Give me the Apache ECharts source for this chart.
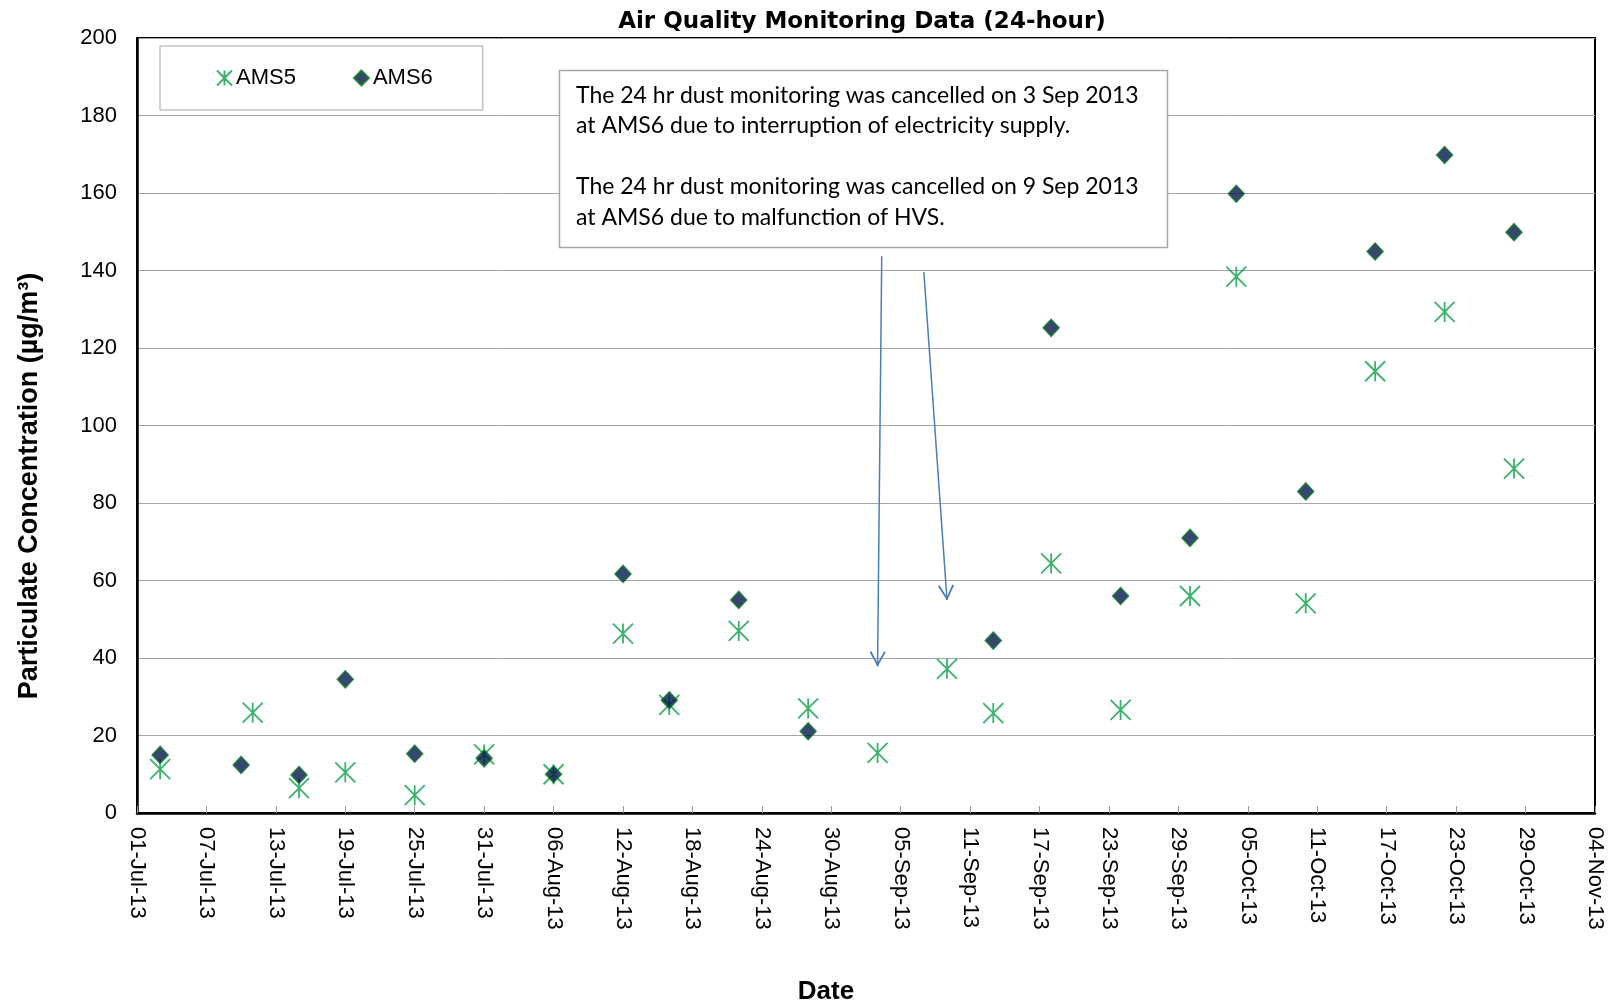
<!DOCTYPE html>
<html>
<head>
<meta charset="utf-8">
<script src="https://cdn.jsdelivr.net/npm/echarts@6/dist/echarts.min.js"></script>
<style>
  html, body { margin: 0; padding: 0; background: #fff; }
  #chart { width: 1614px; height: 1008px; }
</style>
</head>
<body>
<div id="chart"></div>
<script>
// ---- data ----
const startDate = '2013-07-01';
const tickLabels = ['01-Jul-13', '07-Jul-13', '13-Jul-13', '19-Jul-13', '25-Jul-13', '31-Jul-13',
  '06-Aug-13', '12-Aug-13', '18-Aug-13', '24-Aug-13', '30-Aug-13', '05-Sep-13', '11-Sep-13',
  '17-Sep-13', '23-Sep-13', '29-Sep-13', '05-Oct-13', '11-Oct-13', '17-Oct-13', '23-Oct-13',
  '29-Oct-13', '04-Nov-13'];
const yTicks = [0, 20, 40, 60, 80, 100, 120, 140, 160, 180, 200];

const ams5Dates = ['2013-07-03', '2013-07-11', '2013-07-15', '2013-07-19', '2013-07-25', '2013-07-31',
  '2013-08-06', '2013-08-12', '2013-08-16', '2013-08-22', '2013-08-28', '2013-09-03', '2013-09-09',
  '2013-09-13', '2013-09-18', '2013-09-24', '2013-09-30', '2013-10-04', '2013-10-10', '2013-10-16',
  '2013-10-22', '2013-10-28'];
const ams5Values = [11.3, 25.9, 6.4, 10.5, 4.6, 15.1, 10.0, 46.3, 27.9, 47.0, 27.0, 15.5, 37.2,
  25.8, 64.4, 26.6, 56.0, 138.4, 54.1, 114.0, 129.3, 88.9];

const ams6Dates = ['2013-07-03', '2013-07-10', '2013-07-15', '2013-07-19', '2013-07-25', '2013-07-31',
  '2013-08-06', '2013-08-12', '2013-08-16', '2013-08-22', '2013-08-28', '2013-09-13', '2013-09-18',
  '2013-09-24', '2013-09-30', '2013-10-04', '2013-10-10', '2013-10-16', '2013-10-22', '2013-10-28'];
const ams6Values = [15.0, 12.4, 9.8, 34.5, 15.3, 14.1, 10.0, 61.7, 29.1, 55.0, 21.1, 44.5, 125.2,
  56.0, 71.0, 159.8, 83.0, 144.9, 169.8, 149.9];

// annotation arrows: [date, value] at start and end
const arrowStarts = [['2013-09-03', 143.7], ['2013-09-07', 139.6]];
const arrowEnds = [['2013-09-03', 37.9], ['2013-09-09', 55.0]];
const arrowStartShift = [0.36, 0]; // day fraction

const noteLines = [
  'The 24 hr dust monitoring was cancelled on 3 Sep 2013',
  'at AMS6 due to interruption of electricity supply.',
  '',
  'The 24 hr dust monitoring was cancelled on 9 Sep 2013',
  'at AMS6 due to malfunction of HVS.'
];

// ---- helpers ----
const DAY = 86400000;
function dayOf(d) {
  return (Date.parse(d + 'T00:00:00Z') - Date.parse(startDate + 'T00:00:00Z')) / DAY;
}
const ams5Data = ams5Dates.map((d, i) => [dayOf(d), ams5Values[i]]);
const ams6Data = ams6Dates.map((d, i) => [dayOf(d), ams6Values[i]]);
const arrowData = arrowStarts.map((s, i) => [
  { coord: [dayOf(s[0]) + arrowStartShift[i], s[1]] },
  { coord: [dayOf(arrowEnds[i][0]), arrowEnds[i][1]] }
]);

const FONT = '"Liberation Sans", Arial, sans-serif';
const GREEN = '#0a9e48';
const NAVY = '#04184a';
const DGREEN = '#0c7a22';
const ARROW_BLUE = '#4a7ebb';

const starPath = 'path://M0,0L10,10M10,0L0,10M5,0L5,10';
const vHead = 'path://M5,0M5,9L10,18L9,18.7L5,11.2L1,18.7L0,18Z';

const chart = echarts.init(document.getElementById('chart'), null, { renderer: 'canvas' });

const option = {
  backgroundColor: '#fff',
  animation: false,
  title: {
    text: 'Air Quality Monitoring Data (24-hour)',
    left: 857,
    top: 6,
    textAlign: 'center',
    textStyle: { fontFamily: '"DejaVu Sans", sans-serif', fontWeight: 'bold', fontSize: 23, color: '#000' }
  },
  legend: {
    left: 160,
    top: 46,
    orient: 'horizontal',
    padding: [21, 50, 21, 56],
    itemGap: 57,
    itemWidth: 15,
    itemHeight: 15,
    borderColor: '#a6a6a6',
    borderWidth: 1,
    backgroundColor: '#fff',
    textStyle: { fontFamily: FONT, fontSize: 22, color: '#000', padding: [0, 0, 0, -1] },
    data: ['AMS5', 'AMS6']
  },
  grid: {
    left: 137,
    right: 19,
    top: 38,
    bottom: 195,
    show: true,
    borderColor: '#000',
    borderWidth: 2,
    containLabel: false,
    outerBoundsMode: 'none'
  },
  xAxis: {
    type: 'value',
    min: 0,
    max: dayOf('2013-11-04'),
    interval: 6,
    axisLine: { show: true, onZero: false, lineStyle: { color: '#000', width: 2.5 } },
    axisTick: { show: true, inside: true, length: 7, lineStyle: { color: '#9a9a9a', width: 1 } },
    splitLine: { show: false },
    axisLabel: {
      rotate: -90,
      margin: 14,
      fontFamily: FONT,
      fontSize: 22,
      color: '#000',
      formatter: (v) => tickLabels[Math.round(v / 6)] || ''
    }
  },
  yAxis: {
    type: 'value',
    min: yTicks[0],
    max: yTicks[yTicks.length - 1],
    interval: 20,
    axisLine: { show: true, lineStyle: { color: '#000', width: 2.5 } },
    axisTick: { show: false },
    splitLine: { show: true, lineStyle: { color: '#a6a6a6', width: 1 } },
    axisLabel: { margin: 20, fontFamily: FONT, fontSize: 22, color: '#000' }
  },
  graphic: [
    {
      type: 'text',
      x: 30, y: 486,
      rotation: Math.PI / 2,
      style: {
        text: 'Particulate Concentration (µg/m³)',
        font: 'bold 27px ' + FONT,
        fill: '#000',
        align: 'center',
        verticalAlign: 'middle'
      }
    },
    {
      type: 'text',
      x: 826, y: 992,
      style: {
        text: 'Date',
        font: 'bold 26px ' + FONT,
        fill: '#000',
        align: 'center',
        verticalAlign: 'middle'
      }
    },
    {
      type: 'group',
      z: 100,
      children: [
        {
          type: 'rect',
          z: 100,
          shape: { x: 559.5, y: 70.5, width: 608, height: 177 },
          style: { fill: '#fff', stroke: '#a6a6a6', lineWidth: 1.5 }
        },
        {
          type: 'text',
          z: 101,
          x: 576, y: 80,
          style: {
            text: noteLines.join('\n'),
            font: '23px Lato, "Open Sans", sans-serif',
            lineHeight: 30.5,
            fill: '#000',
            align: 'left',
            verticalAlign: 'top'
          }
        }
      ]
    }
  ],
  series: [
    {
      name: 'AMS5',
      type: 'scatter',
      symbol: starPath,
      symbolSize: 20,
      itemStyle: { color: GREEN, borderColor: GREEN, borderWidth: 1.8 },
      data: ams5Data,
      z: 3,
      markLine: {
        silent: true,
        symbol: ['none', vHead],
        symbolSize: [16, 30],
        label: { show: false },
        lineStyle: { color: ARROW_BLUE, width: 1.5, type: 'solid' },
        emphasis: { disabled: true },
        data: arrowData
      }
    },
    {
      name: 'AMS6',
      type: 'scatter',
      symbol: 'diamond',
      symbolSize: [16, 17],
      itemStyle: { color: NAVY, borderColor: DGREEN, borderWidth: 1.5 },
      data: ams6Data,
      z: 4
    }
  ]
};
chart.setOption(option);
</script>
</body>
</html>
